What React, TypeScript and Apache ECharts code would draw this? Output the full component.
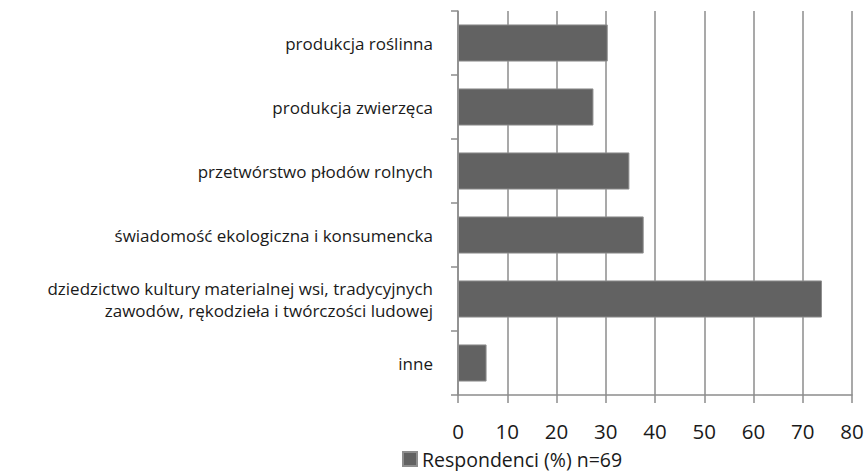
import React, { useEffect, useRef } from "react";
import * as echarts from "echarts";

const categories = [
  "produkcja roślinna",
  "produkcja zwierzęca",
  "przetwórstwo płodów rolnych",
  "świadomość ekologiczna i konsumencka",
  "dziedzictwo kultury materialnej wsi, tradycyjnych\nzawodów, rękodzieła i twórczości ludowej",
  "inne",
];
const values = [30.4, 27.5, 34.8, 37.7, 73.9, 5.8];
const seriesName = "Respondenci (%) n=69";
const xMin = 0;
const xMax = 80;
const xInterval = 10;

export default function App() {
  const ref = useRef<HTMLDivElement>(null);
  useEffect(() => {
    document.body.style.margin = "0";
    if (!ref.current) return;
    const chart = echarts.init(ref.current, null, { renderer: "svg" });
    const font = "'Open Sans', 'DejaVu Sans', sans-serif";
    chart.setOption({
      animation: false,
      backgroundColor: "#ffffff",
      grid: { left: 458, right: 16, top: 11, bottom: 76, containLabel: false },
      legend: {
        data: [seriesName],
        left: 402,
        top: 449,
        padding: 0,
        icon: "rect",
        itemWidth: 14,
        itemHeight: 14,
        itemGap: 8,
        textStyle: { fontFamily: font, fontSize: 19.5, lineHeight: 19, color: "#1a1a1a" },
      },
      xAxis: {
        type: "value",
        min: xMin,
        max: xMax,
        interval: xInterval,
        axisLine: { show: true, lineStyle: { color: "#8c8c8c", width: 1.5 } },
        axisTick: { show: true, length: 8, lineStyle: { color: "#8c8c8c", width: 1.5 } },
        splitLine: { show: true, lineStyle: { color: "#8c8c8c", width: 1.5 } },
        axisLabel: { fontFamily: font, fontSize: 20.5, lineHeight: 20, color: "#1a1a1a", margin: 26 },
      },
      yAxis: {
        type: "category",
        data: categories,
        inverse: true,
        axisLine: { show: true, lineStyle: { color: "#8c8c8c", width: 1.5 } },
        axisTick: { show: true, length: 7, lineStyle: { color: "#8c8c8c", width: 1.5 } },
        splitLine: { show: false },
        axisLabel: {
          fontFamily: font,
          fontSize: 17,
          lineHeight: 22,
          color: "#1a1a1a",
          margin: 25,
          align: "right",
        },
      },
      series: [
        {
          name: seriesName,
          type: "bar",
          data: values,
          barCategoryGap: "42%",
          itemStyle: { color: "#626262", borderColor: "#8e8e8e", borderWidth: 1 },
        },
      ],
    });
    return () => chart.dispose();
  }, []);
  return <div ref={ref} style={{ width: 868, height: 471 }} />;
}
